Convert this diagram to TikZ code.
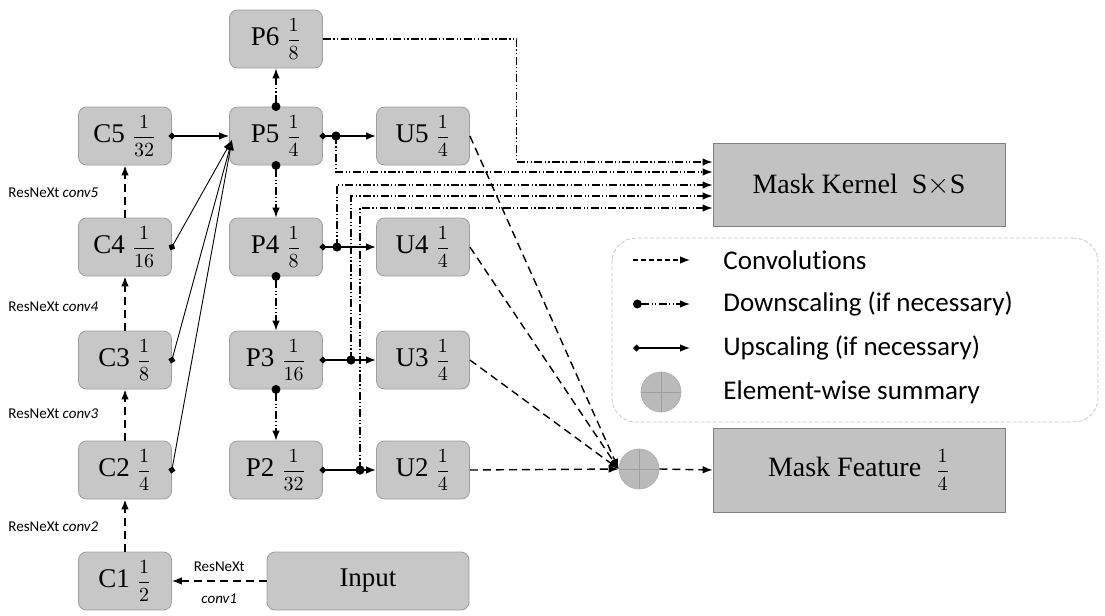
\documentclass[tikz,border=0pt]{standalone}
\usepackage{fontspec}
\setmainfont{Liberation Serif}
\newfontfamily\lgfont[Ligatures=NoCommon]{Carlito}
\usetikzlibrary{arrows.meta}
\usetikzlibrary{calc}
\definecolor{boxfill}{gray}{0.78}
\definecolor{boxline}{gray}{0.62}
\definecolor{maskfill}{gray}{0.76}
\definecolor{maskline}{gray}{0.5}
\newcommand\scalefrac[1]{{\fontsize{10}{12}\selectfont$\displaystyle\frac{1}{#1}$}}
\tikzset{
	blk/.style={draw=boxline, fill=boxfill, rounded corners=4pt, minimum width=46.5pt, minimum height=29pt, inner sep=0pt, font=\fontsize{13.5}{15}\selectfont},
	mask/.style={draw=maskline, fill=maskfill, minimum width=146pt, minimum height=41.5pt, inner sep=0pt, font=\fontsize{14}{16}\selectfont},
	sumc/.style={circle, draw=black!30, fill=black!27, minimum size=20pt, inner sep=0pt,
		path picture={\draw[black!38, line width=0.5pt] (path picture bounding box.north) -- (path picture bounding box.south) (path picture bounding box.west) -- (path picture bounding box.east);}},
	tip/.style={-{Latex[length=5pt,width=3.8pt]}},
	conv/.style={tip, dash pattern=on 4pt off 2.5pt, line width=0.7pt},
	downs/.style={{Circle[length=4.4pt]}-{Latex[length=5pt,width=3.8pt]}, shorten <=-2.2pt, dash pattern=on 4pt off 1.2pt on 0.6pt off 1.2pt on 0.6pt off 1.2pt, line width=0.7pt},
	ups/.style={{Diamond[length=3.6pt,width=3.6pt]}-{Latex[length=5pt,width=3.8pt]}, shorten <=-1.8pt, line width=0.7pt},
	kern/.style={tip, dash pattern=on 4pt off 1.2pt on 0.6pt off 1.2pt on 0.6pt off 1.2pt, line width=0.7pt},
	lbl/.style={font=\lgfont\fontsize{7.5}{9}\selectfont, inner sep=0pt},
	lgtext/.style={font=\lgfont\fontsize{13.5}{15}\selectfont, anchor=west, inner sep=0pt}
}
\begin{document}
\begin{tikzpicture}[x=0.5pt, y=-0.5pt]
	\useasboundingbox (0,0) rectangle (1105,616);
	
	%backbone, pyramid and upscaled levels
	\foreach \i/\y/\d in {1/581/2, 2/470/4, 3/360/8, 4/247/16, 5/136/32}
	\node[blk] (c\i) at (125,\y) {C\i\ \scalefrac{\d}};
	\foreach \i/\y/\d in {2/470/32, 3/360/16, 4/247/8, 5/136/4, 6/39/8}
	\node[blk] (p\i) at (276,\y) {P\i\ \scalefrac{\d}};
	\foreach \i/\y in {2/470, 3/360, 4/247, 5/136}
	\node[blk] (u\i) at (423,\y) {U\i\ \scalefrac{4}};
	\node[blk, minimum width=101pt] (inp) at (368,581) {Input};
	
	%heads
	\node[mask] (kernel) at (859,184.5) {Mask Kernel\ \ S$\times$S};
	\node[mask, minimum height=42pt] (feat) at (859,470) {Mask Feature\ \ \scalefrac{4}};
	\node[sumc] (sum) at (639,469) {};
	
	%backbone stages
	\draw[conv] (inp.west) -- (c1.east)
		node[lbl, midway, above=4.5pt] {ResNeXt}
		node[lbl, midway, below=6pt] {\textit{conv1}};
	\foreach \a/\b in {1/2, 2/3, 3/4, 4/5}
	\draw[conv, line width=0.9pt] (c\a.north) -- (c\b.south);
	\node[lbl, anchor=west] (r2) at (8,527) {ResNeXt \textit{conv2}};
	\node[lbl, anchor=west] (r3) at (8,414) {ResNeXt \textit{conv3}};
	\node[lbl, anchor=west] (r4) at (8,307) {ResNeXt \textit{conv4}};
	\node[lbl, anchor=west] (r5) at (8,193) {ResNeXt \textit{conv5}};
	
	%lateral links into P5
	\coordinate (p5in) at (232,140);
	\draw[ups] (c5.east) -- (p5.west);
	\foreach \i in {2,3,4}
	\draw[ups, line width=0.45pt] (c\i.east) -- (p5in);
	
	%pyramid downscaling
	\draw[downs] (p5.north) -- (p6.south);
	\foreach \a/\b in {5/4, 4/3, 3/2}
	\draw[downs] (p\a.south) -- (p\b.north);
	
	%branch points
	\coordinate (j5) at (336,136);
	\coordinate (j4) at (337,247);
	\coordinate (j3) at (351,360);
	\coordinate (j2) at (360,470);
	\coordinate (k6) at ($(kernel.west)+(0,-22.5)$);
	\coordinate (k5) at ($(kernel.west)+(0,-12.5)$);
	\coordinate (k4) at ($(kernel.west)+(0,0.5)$);
	\coordinate (k3) at ($(kernel.west)+(0,11.5)$);
	\coordinate (k2) at ($(kernel.west)+(0,23.5)$);
	
	%kernel branch
	\draw[kern] (p6.east) -| ([xshift=-98pt]k6) -- (k6);
	\foreach \i in {2,...,5}
	\draw[kern] (j\i) |- (k\i);
	
	%feature branch
	\foreach \i in {2,...,5}{
		\draw[ups, line width=0.9pt] (p\i.east) -- (u\i.west);
		\fill (j\i) circle (2.3pt);
		\draw[conv] (u\i.east) -- (sum.west);
	}
	\draw[conv] (sum.east) -- (feat.west);
	
	%legend
	\node[draw=black!22, dash pattern=on 2pt off 1pt, rounded corners=12pt, minimum width=243pt, minimum height=92pt] (legend) at (855,330) {};
	\node[lgtext] (l1) at (723,260) {Convolutions};
	\node[lgtext] (l2) at (723,304) {Downscaling (if necessary)};
	\node[lgtext] (l3) at (723,348) {Upscaling (if necessary)};
	\node[lgtext] (l4) at (723,392) {Element-wise summary};
	\draw[conv, dash pattern=on 2.5pt off 1.5pt] ([xshift=-45pt]l1.west) -- ([xshift=-16.5pt]l1.west);
	\draw[downs, shorten <=0pt] ([xshift=-45pt]l2.west) -- ([xshift=-16.5pt]l2.west);
	\draw[ups, shorten <=0pt] ([xshift=-45pt]l3.west) -- ([xshift=-16.5pt]l3.west);
	\node[sumc] (lsum) at ([xshift=-31pt]l4.west) {};
\end{tikzpicture}
\end{document}
